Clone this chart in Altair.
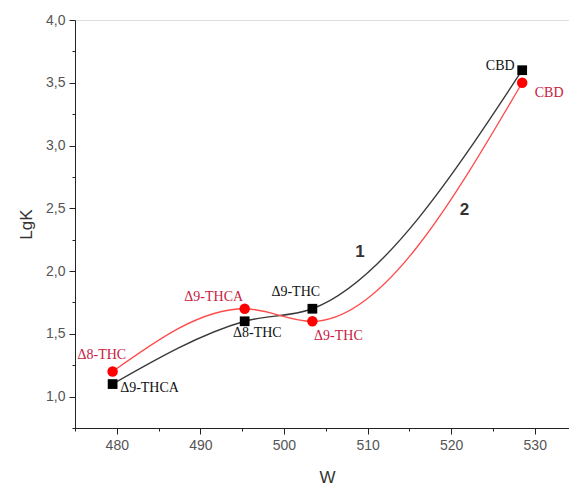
import altair as alt
import pandas as pd

# data
w_vals = [479.5, 495.3, 503.4, 528.5]
lgk_1 = [1.10, 1.60, 1.70, 3.60]   # curve 1 (black squares)
lgk_2 = [1.20, 1.70, 1.60, 3.50]   # curve 2 (red circles)

# annotations
lab_left_text = ["Δ8-THC", "Δ9-THCA", "Δ8-THC", "Δ9-THC", "Δ9-THC", "CBD"]
lab_left_x = [475.3, 480.4, 493.9, 498.5, 503.6, 530.0]
lab_left_y = [1.33, 1.07, 1.51, 1.83, 1.48, 3.42]
lab_left_c = ["#c8203f", "#111111", "#111111", "#111111", "#c8203f", "#c8203f"]

lab_center_text = ["Δ9-THCA"]
lab_center_x = [491.6]
lab_center_y = [1.79]
lab_center_c = ["#c8203f"]

lab_right_text = ["CBD"]
lab_right_x = [527.6]
lab_right_y = [3.63]
lab_right_c = ["#111111"]

num_text = ["1", "2"]
num_x = [509.1, 521.6]
num_y = [2.15, 2.49]

x_ticks = [475, 480, 485, 490, 495, 500, 505, 510, 515, 520, 525, 530]
y_major = [1.0, 1.5, 2.0, 2.5, 3.0, 3.5, 4.0]
y_minor = [0.75, 1.25, 1.75, 2.25, 2.75, 3.25, 3.75]

df1 = pd.DataFrame({"W": w_vals, "LgK": lgk_1})
df2 = pd.DataFrame({"W": w_vals, "LgK": lgk_2})
dl = pd.DataFrame({"t": lab_left_text, "x": lab_left_x, "y": lab_left_y, "c": lab_left_c})
dc = pd.DataFrame({"t": lab_center_text, "x": lab_center_x, "y": lab_center_y, "c": lab_center_c})
dr = pd.DataFrame({"t": lab_right_text, "x": lab_right_x, "y": lab_right_y, "c": lab_right_c})
dn = pd.DataFrame({"t": num_text, "x": num_x, "y": num_y})

xs = alt.Scale(domain=[475, 534.1], nice=False, zero=False)
ys = alt.Scale(domain=[0.75, 4.0], nice=False, zero=False)

FONT = "Liberation Sans"
SERIF = "Liberation Serif"

x_axis = alt.Axis(values=x_ticks,
                  tickSize={"condition": {"test": "datum.value % 10 == 0", "value": 6}, "value": 3},
                  labelExpr="datum.value % 10 == 0 ? datum.label : ''",
                  tickColor="#222", domainColor="#222", labelOverlap=False,
                  labelFontSize=14, labelColor="#555", labelFont=FONT, grid=False,
                  title="W", titleFontSize=17, titleFontWeight="normal",
                  titleColor="#333", titleFont=FONT, titleX=252, titleY=49,
                  titleBaseline="middle", labelPadding=4, labelFlush=False, orient="bottom")
y_axis = alt.Axis(values=y_major, tickSize=6,
                  labelExpr="replace(format(datum.value, '.1f'), '.', ',')",
                  tickColor="#222", domainColor="#222", labelOverlap=False,
                  labelFontSize=14, labelColor="#555", labelFont=FONT, grid=False,
                  title="LgK", titleFontSize=17, titleFontWeight="normal",
                  titleColor="#333", titleFont=FONT, titleX=-49, titleY=204,
                  titleBaseline="middle", labelPadding=4, labelFlush=False, orient="left")
y_minor_axis = alt.Axis(values=y_minor, tickSize=3, tickColor="#222", domain=False,
                        labels=False, grid=False, title="", orient="left")

base1 = alt.Chart(df1)
base2 = alt.Chart(df2)

line1 = base1.mark_line(interpolate="monotone", color="#3a3a3a", strokeWidth=1.4).encode(
    x=alt.X("W:Q", scale=xs, axis=x_axis),
    y=alt.Y("LgK:Q", scale=ys, axis=y_axis),
)
minor = base1.mark_point(opacity=0).encode(
    x=alt.X("W:Q", scale=xs),
    y=alt.Y("LgK:Q", scale=ys, axis=y_minor_axis),
)
line2 = base2.mark_line(interpolate="monotone", color="#ff4a4a", strokeWidth=1.3).encode(
    x=alt.X("W:Q", scale=xs), y=alt.Y("LgK:Q", scale=ys, axis=None)
)
pts1 = base1.mark_point(shape="square", filled=True, color="#000000", size=95, opacity=1).encode(
    x=alt.X("W:Q", scale=xs), y=alt.Y("LgK:Q", scale=ys, axis=None)
)
pts2 = base2.mark_point(shape="circle", filled=True, color="#ff0000", size=110, opacity=1).encode(
    x=alt.X("W:Q", scale=xs), y=alt.Y("LgK:Q", scale=ys, axis=None)
)


def txt(d, align, font, size, weight="normal", color=None):
    kw = dict(align=align, baseline="middle", font=font, fontSize=size, fontWeight=weight)
    enc = dict(x=alt.X("x:Q", scale=xs), y=alt.Y("y:Q", scale=ys, axis=None),
               text="t:N")
    if color is None:
        enc["color"] = alt.Color("c:N", scale=None)
    else:
        kw["color"] = color
    return alt.Chart(d).mark_text(**kw).encode(**enc)


tl = txt(dl, "left", SERIF, 14)
tc = txt(dc, "center", SERIF, 14)
tr = txt(dr, "right", SERIF, 14)
tn = txt(dn, "center", FONT, 17, weight="bold", color="#333333")

chart = alt.layer(line1, minor, line2, pts1, pts2, tl, tc, tr, tn).resolve_axis(
    y="independent"
).properties(
    width=494, height=408,
    autosize=alt.AutoSizeParams(type="none"),
    padding={"left": 75, "top": 20, "right": 0, "bottom": 58},
).configure_view(stroke=None).configure(background="white")

chart.save("out.html", embed_options={"renderer": "svg", "actions": False})
